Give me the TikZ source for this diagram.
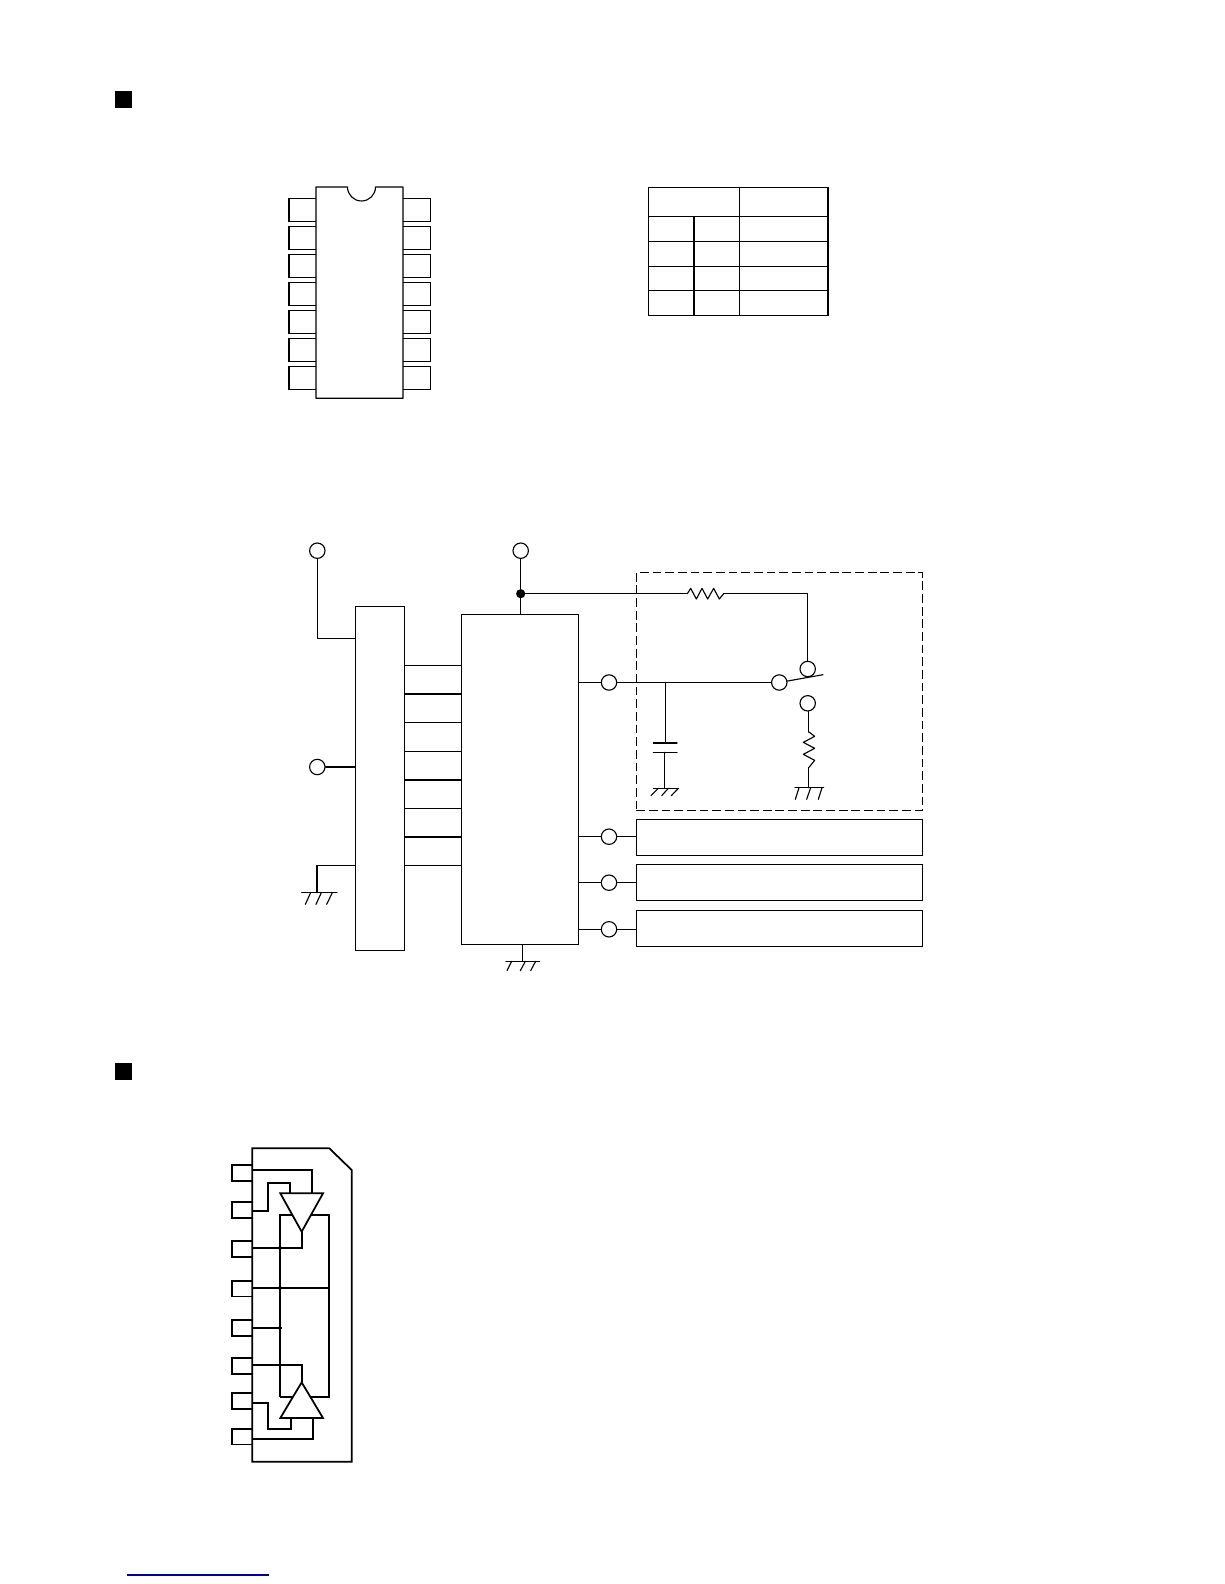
\documentclass[tikz,border=0pt]{standalone}
\usetikzlibrary{fit}
\tikzset{
  wire/.style={line width=1.6pt,line cap=round,line join=round},
  wireB/.style={line width=2.5pt,line join=miter},
  boxx/.style={draw,line width=1.6pt,inner sep=0pt,fill=white},
  pinbox/.style={draw,line width=1.6pt,inner sep=0pt,fill=white},
  term/.style={circle,draw,line width=1.6pt,fill=white,inner sep=0pt,minimum size=0.77cm},
  jdot/.style={circle,fill=black,inner sep=0pt,minimum size=0.46cm},
  dashbox/.style={draw,dashed,dash pattern=on 12.5pt off 5.5pt,line width=1.5pt,inner sep=0pt},
  bullet/.style={fill=black,inner sep=0pt},
}
\newcommand{\bx}[6][boxx]{\node[#1,fit={(#3,#4)(#5,#6)}] (#2) {};}
\begin{document}
\begin{tikzpicture}[x=0.05cm,y=-0.05cm]
\useasboundingbox (0,0) rectangle (1224,1584);
\fill[white] (0,0) rectangle (1224,1584);
% section bullets
\bx[bullet]{sqA}{115}{91}{132}{108.3}
\bx[bullet]{sqB}{115}{1062.5}{132}{1080}
% DIP pins
\foreach \i/\t in {1/198.3,2/226.3,3/254.3,4/282.3,5/310.3,6/338.3,7/366.7}{
  \pgfmathsetmacro\b{\t+23}
  \bx[pinbox]{pl\i}{289}{\t}{320}{\b}
  \bx[pinbox]{pr\i}{399}{\t}{430.5}{\b}
}
% DIP body
\draw[wire,fill=white] (316,187) -- (347.5,187) arc (180:360:0.7cm) -- (403,187) -- (403,398.3) -- (316,398.3) -- cycle;
% table
\foreach \n/\xa/\ya/\xb/\yb in {
  h1/648.4/187.3/739.3/216.3, h2/739.3/187.3/828/216.3,
  a1/648.4/216.3/694/241.3, a2/694/216.3/739.3/241.3, a3/739.3/216.3/828/241.3,
  b1/648.4/241.3/694/266.3, b2/694/241.3/739.3/266.3, b3/739.3/241.3/828/266.3,
  c1/648.4/266.3/694/290.3, c2/694/266.3/739.3/290.3, c3/739.3/266.3/828/290.3,
  d1/648.4/290.3/694/315.3, d2/694/290.3/739.3/315.3, d3/739.3/290.3/828/315.3}{
  \bx{cell\n}{\xa}{\ya}{\xb}{\yb}
}
% application circuit blocks
\bx{blk}{355.3}{606.3}{404.3}{950.3}
\bx{ctrl}{461.3}{614.3}{578.3}{944.3}
\bx[dashbox]{dbox}{636.3}{572.7}{922.3}{810.3}
\bx{boxA}{636.3}{819.3}{922.3}{855.3}
\bx{boxB}{636.3}{864.3}{922.3}{900.3}
\bx{boxC}{636.3}{910.3}{922.3}{946.3}
% terminals
\node[term] (t1) at (317.3,550.7) {};
\node[term] (t2) at (520.7,550.7) {};
\node[term] (t3) at (317.3,767) {};
\node[term] (o1) at (609,682.5) {};
\node[term] (o2) at (609,836.7) {};
\node[term] (o3) at (609,882.7) {};
\node[term] (o4) at (609,929.3) {};
\node[term] (s0) at (779.3,682.5) {};
\node[term] (s1) at (807.7,669) {};
\node[term] (s2) at (807.7,703.3) {};
\node[jdot] (j) at (520.7,593.7) {};
% named free ends
\coordinate (gl) at (317,892.7);
\coordinate (gc) at (522.3,961.3);
\coordinate (rt) at (687.3,593.7);
\coordinate (re) at (723.7,593.7);
\coordinate (capA) at (665.3,743);
\coordinate (capB) at (664.3,752.3);
\coordinate (gcap) at (664.3,788.3);
\coordinate (rv) at (808.7,732);
\coordinate (rw) at (808.7,767.3);
\coordinate (gr) at (808.7,787.7);
\coordinate (swtip) at (823,674.7);
% connectors
\draw[wire] (t1) |- (blk.west |- 0,638.7);
\draw[wire] (t3) -- (blk.west |- t3);
\draw[wire] (blk.west |- 0,865.7) -| (gl);
\draw[wire] (t2) -- (j) -- (ctrl.north -| j);
\foreach \y in {665.3,694,722.7,751.3,780,808.3,837,865.7}
  \draw[wire] (blk.east |- 0,\y) -- (ctrl.west |- 0,\y);
\draw[wire] (ctrl.south -| gc) -- (gc);
\draw[wire] (ctrl.east |- o1) -- (o1);
\draw[wire] (ctrl.east |- o2) -- (o2) -- (boxA.west |- o2);
\draw[wire] (ctrl.east |- o3) -- (o3) -- (boxB.west |- o3);
\draw[wire] (ctrl.east |- o4) -- (o4) -- (boxC.west |- o4);
\draw[wire] (o1) -- (s0);
\draw[wire] (j) -- (rt);
\draw[wire] (re) -| (s1);
\draw[wire] (s0) -- (swtip);
\draw[wire] (s2.south -| rv) -- (rv);
\draw[wire] (rw) -- (gr);
% top resistor
\draw[wire,shift={(600,560)},x=0.05cm/3,y=-0.05cm/3] (262,101) -- (272,85) -- (289,117) -- (306,85) -- (323,117) -- (341,85) -- (358,117) -- (371,101);
% vertical resistor
\draw[wire,shift={(600,560)},x=0.05cm/3,y=-0.05cm/3] (627,516) -- (644,529) -- (610,547) -- (644,565) -- (610,583) -- (644,601) -- (627,622);
% capacitor
\draw[wire] (o1 -| capA) -- (capA);
\draw[wire] (capB) -- (gcap);
\draw[wire] (653.3,743) -- (677,743);
\draw[wire] (653.3,752.3) -- (677,752.3);
% grounds
\draw[wire] (301.7,892.7) -- (337,892.7);
\draw[wire,shift={(290,530)},x=0.05cm/3,y=-0.05cm/3] (46,1123) -- (62,1088) (78,1123) -- (94,1088) (110,1123) -- (127,1088);
\draw[wire] (506,961.3) -- (539.7,961.3);
\draw[wire,shift={(290,530)},x=0.05cm/3,y=-0.05cm/3] (651,1322) -- (665,1294) (691,1322) -- (706,1294) (722,1322) -- (737,1294);
\draw[wire] (653.3,788.3) -- (678.7,788.3);
\draw[wire,shift={(600,560)},x=0.05cm/3,y=-0.05cm/3] (153,707) -- (175,685) (185,707) -- (205,685) (214,707) -- (235,685);
\draw[wire] (795,787.7) -- (823.7,787.7);
\draw[wire,shift={(600,560)},x=0.05cm/3,y=-0.05cm/3] (586,718) -- (597,683) (620,718) -- (632,683) (655,718) -- (666,683);
% lower IC
\foreach \i/\t in {1/1165,2/1202,3/1241.3,4/1280.7,5/1320,6/1358,7/1393.3,8/1428.7}{
  \pgfmathsetmacro\b{\t+15.8}
  \bx[pinbox,line width=2.4pt]{q\i}{232}{\t}{256}{\b}
}
\draw[wireB,fill=white] (252.3,1148.3) -- (329.3,1148.3) -- (351.7,1170) -- (351.7,1461.7) -- (252.3,1461.7) -- cycle;
\begin{scope}[shift={(220,1135)},x=0.05cm/3,y=-0.05cm/3]
\draw[wireB] (97,105) -- (277,105) -- (277,175);
\draw[wireB] (97,227) -- (145,227) -- (145,143) -- (211,143) -- (211,175);
\draw[wireB] (181,785) -- (181,240) -- (327,240) -- (327,787) -- (181,787);
\draw[wireB] (245,290) -- (245,340) -- (97,340);
\draw[wireB] (97,460) -- (330,460);
\draw[wireB] (97,578) -- (187,578);
\draw[wireB] (97,690) -- (245,690) -- (245,742);
\draw[wireB] (97,803) -- (145,803) -- (145,883) -- (213,883) -- (213,849);
\draw[wireB] (97,911) -- (278,911) -- (278,849);
\draw[wireB,fill=white] (181,175) -- (309,175) -- (245,290) -- cycle;
\draw[wireB,fill=white] (181,849) -- (309,849) -- (245,742) -- cycle;
\end{scope}
% footer rule
\draw[line width=1.6pt,color={rgb,255:red,0;green,0;blue,160}] (127.3,1575) -- (269,1575);
\end{tikzpicture}
\end{document}
